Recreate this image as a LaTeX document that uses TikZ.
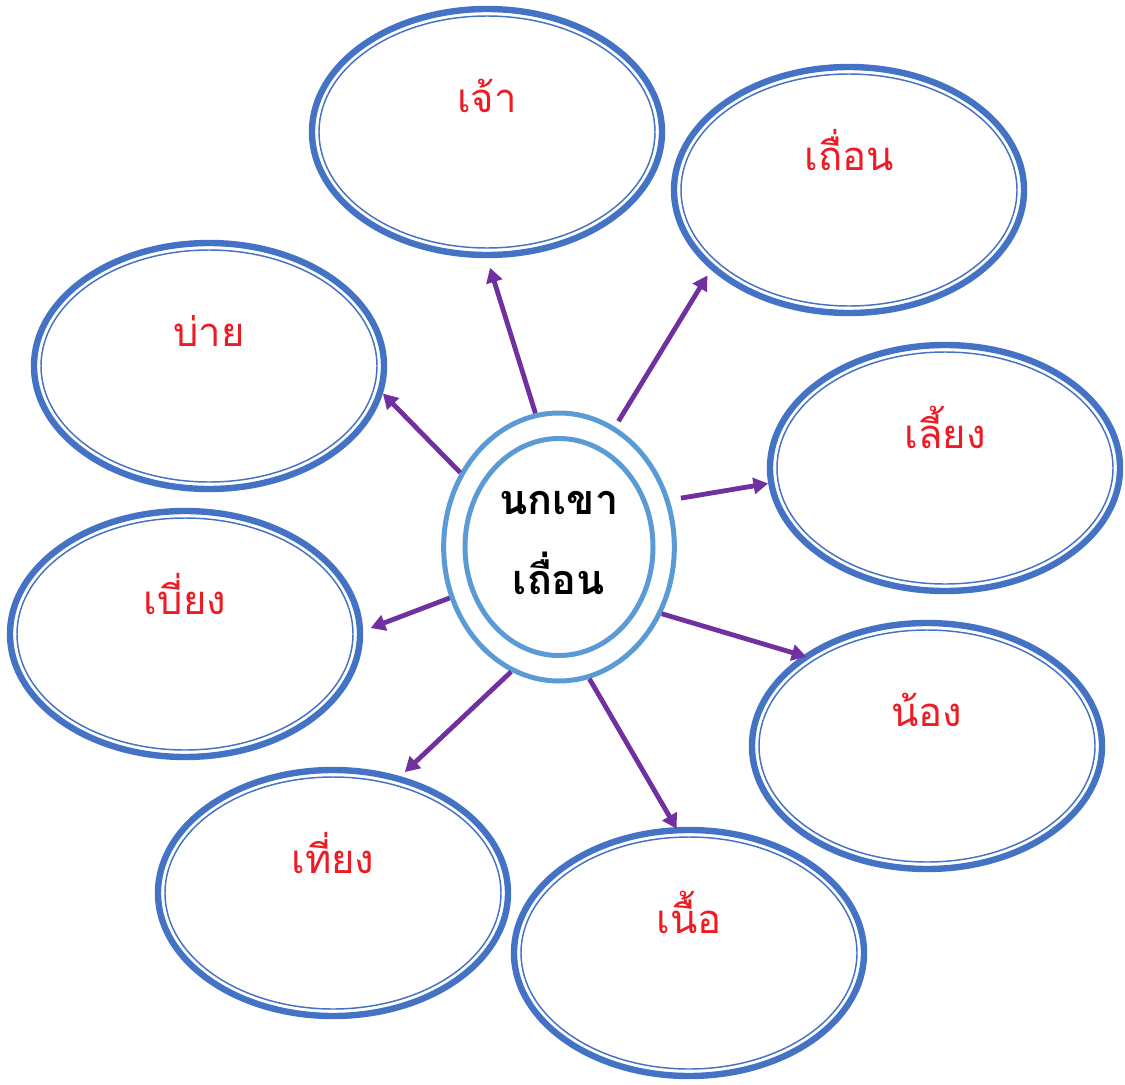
\documentclass[tikz,border=0pt]{standalone}
\usepackage{fontspec}
\newfontfamily\thaifont[Script=Thai]{Loma}
\usetikzlibrary{arrows.meta,calc,shapes.geometric}
\definecolor{bubblue}{HTML}{4472C4}
\definecolor{midblue}{HTML}{5B9BD5}
\definecolor{arrpurple}{HTML}{7030A0}
\definecolor{lblred}{RGB}{237,28,36}
\tikzset{
  bub/.style={ellipse, draw=bubblue, line width=4.8pt, minimum width=262.5pt, minimum height=184.5pt, inner sep=0pt},
  inbub/.style={draw=bubblue, line width=1.1pt},
  lbl/.style={font=\thaifont\fontsize{30}{33}\selectfont, text=lblred, anchor=base, inner sep=0pt},
  cout/.style={ellipse, draw=midblue, line width=3.75pt, minimum width=173pt, minimum height=201pt, inner sep=0pt},
  arr/.style={draw=arrpurple, line width=3.6pt, -{Triangle[length=11pt,width=12pt]}},
}
\newcommand{\bubble}[4]{%
  \node[bub] (#1) at (#2,#3) {};
  \draw[inbub] (#1.center) ellipse [x radius=168, y radius=116];
  \node[lbl] (#1t) at ($(#1)+(0,-20)$) {#4};
}
\begin{document}
\begin{tikzpicture}[x=0.75pt,y=-0.75pt]
\useasboundingbox (0,0) rectangle (1125,1085);
% outer bubbles
\bubble{e1}{487}{132}{เจ้า}
\bubble{e2}{849}{190}{เถื่อน}
\bubble{e3}{209}{366}{บ่าย}
\bubble{e4}{945}{468}{เลี้ยง}
\bubble{e5}{185}{634}{เบี่ยง}
\bubble{e6}{927}{746}{น้อง}
\bubble{e7}{333}{893}{เที่ยง}
\bubble{e8}{689}{953}{เนื้อ}
% centre
\node[cout] (c) at (559,547) {};
\draw[draw=midblue, line width=3.75pt] (c.center) ellipse [x radius=94, y radius=108.5];
\node[font=\thaifont\bfseries\fontsize{31}{60}\selectfont, align=center, inner sep=0pt] (ct) at (559,543) {นกเขา\\เถื่อน};
% arrows
\draw[arr, shorten >=7.5pt] (c.100.9) -- (e1.270);
\draw[arr, shorten <=5pt, shorten >=5pt] (c.65.5) -- (e2.210.3);
\draw[arr] (c.143.8) -- (e3.351.5);
\draw[arr, shorten <=8.6pt] (c.23.1) -- (e4.185.9);
\draw[arr, shorten >=6pt] (c.205.3) -- (e5.1.5);
\draw[arr, shorten >=-3pt] (c.327.3) -- (e6.144.5);
\draw[arr, shorten >=4.5pt] (c.249.5) -- (e7.60.2);
\draw[arr, shorten >=-1.5pt] (c.283.7) -- (e8.96.4);
\end{tikzpicture}
\end{document}
